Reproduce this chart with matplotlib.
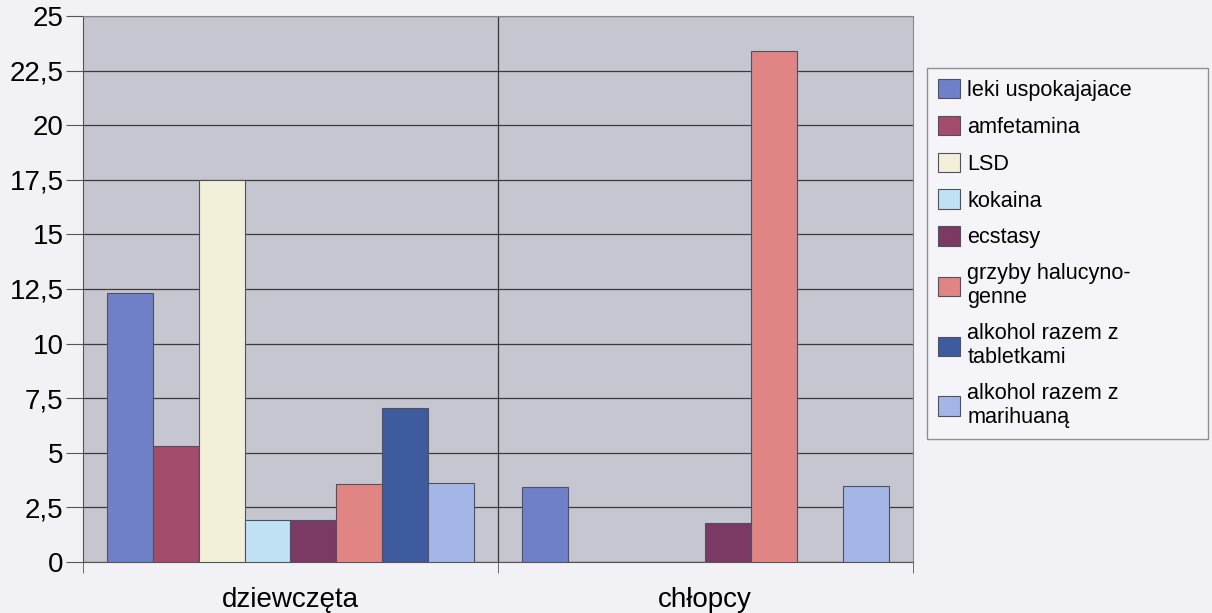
import numpy as np
import matplotlib
matplotlib.use("Agg")
import matplotlib.pyplot as plt
from matplotlib.ticker import FixedLocator, FuncFormatter

plt.rcParams["font.family"] = ["Liberation Sans", "DejaVu Sans"]

groups = ["dziewczęta", "chłopcy"]
series = ["leki uspokajajace", "amfetamina", "LSD", "kokaina", "ecstasy",
          "grzyby halucyno-\ngenne", "alkohol razem z\ntabletkami",
          "alkohol razem z\nmarihuaną"]
girls = [12.3, 5.3, 17.5, 1.9, 1.9, 3.55, 7.05, 3.6]
boys = [3.45, 0, 0, 0, 1.8, 23.4, 0, 3.5]
colors = ["#6f80c8", "#a34c6c", "#f2f0d8", "#c0e2f4", "#7a3a63",
          "#e08583", "#3d5b9d", "#a3b6e6"]

fig = plt.figure(figsize=(12.12, 6.13), dpi=100)
fig.patch.set_facecolor("#f2f2f6")
ax = fig.add_axes([0.0685, 0.0832, 0.6845, 0.8908])
ax.set_facecolor("#c6c6d0")

n = len(series)
width = 0.885 / n
x = np.arange(len(groups))
handles = []
for i in range(n):
    vals = [girls[i], boys[i]]
    pos = x - 0.885 / 2 + width * (i + 0.5)
    b = ax.bar(pos, vals, width, color=colors[i], edgecolor="#505060",
               linewidth=0.8, label=series[i], zorder=3)
    handles.append(b)

ax.set_xlim(-0.5, 1.5)
ax.set_ylim(0, 25)
ax.yaxis.set_major_locator(FixedLocator(np.arange(0, 25.01, 2.5)))
ax.yaxis.set_major_formatter(FuncFormatter(
    lambda v, p: ("%g" % v).replace(".", ",")))
ax.grid(axis="y", color="#3a3a3a", linewidth=0.9, zorder=1)
ax.axvline(0.5, color="#3a3a3a", linewidth=0.9, zorder=1)

ax.set_xticks(x)
ax.set_xticklabels(groups, fontsize=20)
ax.tick_params(axis="x", length=0, pad=18)
ax.set_xticks([-0.5, 0.5, 1.5], minor=True)
ax.tick_params(axis="x", which="minor", length=8, color="#555555")
ax.tick_params(axis="y", labelsize=20, length=12, color="#555555", pad=2)

for s in ["top", "right"]:
    ax.spines[s].set_color("#888888")
ax.spines["left"].set_color("#555555")
ax.spines["bottom"].set_color("#555555")

leg = fig.legend(handles=handles, loc="upper left",
                 bbox_to_anchor=(0.765, 0.263, 0.232, 0.626),
                 mode="expand", fontsize=15.6, frameon=True, fancybox=False,
                 edgecolor="#777777", facecolor="#f7f7fa",
                 handlelength=1.0, handleheight=1.0, handletextpad=0.35,
                 labelspacing=0.68, borderaxespad=0, borderpad=0.5)
leg.get_frame().set_linewidth(1.0)

fig.savefig("out.png", dpi=100, facecolor=fig.get_facecolor())
